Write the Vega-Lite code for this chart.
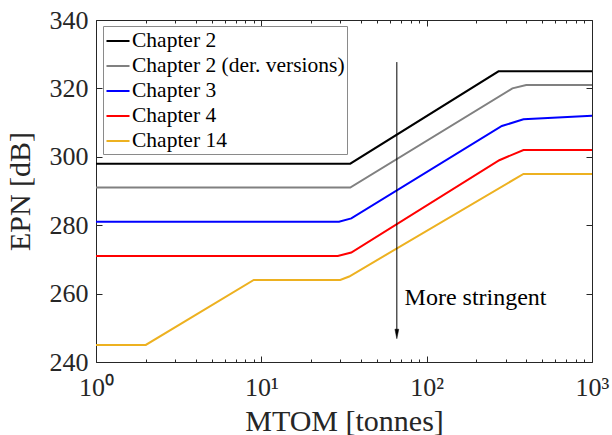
{
  "$schema": "https://vega.github.io/schema/vega-lite/v6.json",
  "width": 496,
  "height": 342,
  "autosize": "none",
  "padding": {"left": 96, "top": 20, "right": 20, "bottom": 73},
  "background": "white",
  "config": {
    "view": {"stroke": "#262626", "strokeWidth": 1},
    "font": "Liberation Serif",
    "axis": {
      "grid": false,
      "domain": false,
      "tickColor": "#262626",
      "labelColor": "#262626",
      "titleColor": "#262626",
      "labelFont": "Liberation Serif",
      "titleFont": "Liberation Serif",
      "titleFontWeight": "normal"
    }
  },
  "datasets": {
    "lines": [
      {"series": "Chapter 2", "mtom": 1, "epn": 298},
      {"series": "Chapter 2", "mtom": 34.5, "epn": 298},
      {"series": "Chapter 2", "mtom": 272, "epn": 325},
      {"series": "Chapter 2", "mtom": 1000, "epn": 325},
      {"series": "Chapter 2 (der. versions)", "mtom": 1, "epn": 291},
      {"series": "Chapter 2 (der. versions)", "mtom": 34.5, "epn": 291},
      {"series": "Chapter 2 (der. versions)", "mtom": 330, "epn": 320},
      {"series": "Chapter 2 (der. versions)", "mtom": 400, "epn": 321},
      {"series": "Chapter 2 (der. versions)", "mtom": 1000, "epn": 321},
      {"series": "Chapter 3", "mtom": 1, "epn": 281},
      {"series": "Chapter 3", "mtom": 29.5, "epn": 281},
      {"series": "Chapter 3", "mtom": 35, "epn": 282},
      {"series": "Chapter 3", "mtom": 285, "epn": 309},
      {"series": "Chapter 3", "mtom": 385, "epn": 311},
      {"series": "Chapter 3", "mtom": 1000, "epn": 312},
      {"series": "Chapter 4", "mtom": 1, "epn": 271},
      {"series": "Chapter 4", "mtom": 29, "epn": 271},
      {"series": "Chapter 4", "mtom": 35, "epn": 272},
      {"series": "Chapter 4", "mtom": 275, "epn": 299},
      {"series": "Chapter 4", "mtom": 385, "epn": 302},
      {"series": "Chapter 4", "mtom": 1000, "epn": 302},
      {"series": "Chapter 14", "mtom": 1, "epn": 245},
      {"series": "Chapter 14", "mtom": 2, "epn": 245},
      {"series": "Chapter 14", "mtom": 9, "epn": 264},
      {"series": "Chapter 14", "mtom": 30, "epn": 264},
      {"series": "Chapter 14", "mtom": 34, "epn": 265},
      {"series": "Chapter 14", "mtom": 385, "epn": 295},
      {"series": "Chapter 14", "mtom": 1000, "epn": 295}
    ],
    "arrow": [
      {"x": 66, "ytop": 327.7, "ybot": 249, "tx": 73.5, "ty": 258.6, "label": "More stringent", "yhead": 248.2}
    ]
  },
  "resolve": {"axis": {"x": "independent", "y": "independent"}},
  "layer": [
    {
      "data": {"name": "lines"},
      "mark": {"type": "line", "strokeWidth": 2, "clip": true},
      "encoding": {
        "x": {
          "field": "mtom", "type": "quantitative",
          "scale": {"type": "log", "domain": [1, 1000]},
          "axis": {
            "orient": "bottom",
            "values": [1, 10, 100, 1000],
            "labelExpr": "datum.value == 1 ? '10⁰' : datum.value == 10 ? '10¹' : datum.value == 100 ? '10²' : '10³'",
            "labelFlush": false,
            "tickSize": -6,
            "labelPadding": 18,
            "labelFontSize": 26,
            "title": "MTOM [tonnes]",
            "titleFontSize": 30,
            "titlePadding": 6
          }
        },
        "y": {
          "field": "epn", "type": "quantitative",
          "scale": {"domain": [240, 340]},
          "axis": {
            "orient": "left",
            "values": [240, 260, 280, 300, 320, 340],
            "tickSize": -6,
            "labelPadding": 14,
            "labelFontSize": 26,
            "title": "EPN [dB]",
            "titleFontSize": 30,
            "titlePadding": 14
          }
        },
        "color": {
          "field": "series", "type": "nominal",
          "scale": {
            "domain": ["Chapter 2", "Chapter 2 (der. versions)", "Chapter 3", "Chapter 4", "Chapter 14"],
            "range": ["#000000", "#808080", "#0000FF", "#FF0000", "#EDB120"]
          },
          "legend": {
            "orient": "none",
            "legendX": 7,
            "legendY": 6,
            "title": null,
            "fillColor": "white",
            "strokeColor": "#8a8a8a",
            "padding": 2,
            "symbolType": "stroke",
            "symbolSize": 530,
            "symbolStrokeWidth": 2,
            "labelFontSize": 21.5,
            "labelFont": "Liberation Serif",
            "labelColor": "#000000",
            "rowPadding": 1,
            "labelOffset": 1,
            "labelLimit": 400
          }
        }
      }
    },
    {
      "data": {"name": "arrow"},
      "mark": {"type": "rule", "color": "#000000", "strokeWidth": 1},
      "encoding": {
        "x": {
          "field": "x", "type": "quantitative",
          "scale": {"type": "log", "domain": [1, 1000]},
          "axis": {
            "orient": "bottom",
            "values": [2, 3, 4, 5, 6, 7, 8, 9, 20, 30, 40, 50, 60, 70, 80, 90, 200, 300, 400, 500, 600, 700, 800, 900],
            "labels": false,
            "tickSize": -3,
            "title": null
          }
        },
        "y": {
          "field": "ytop", "type": "quantitative",
          "scale": {"domain": [240, 340]},
          "axis": {
            "orient": "right",
            "values": [240, 260, 280, 300, 320, 340],
            "labels": false,
            "tickSize": -6,
            "title": null
          }
        },
        "y2": {"field": "ybot"}
      }
    },
    {
      "data": {"name": "arrow"},
      "mark": {"type": "text", "align": "left", "baseline": "middle", "fontSize": 24, "font": "Liberation Serif", "color": "#000000"},
      "encoding": {
        "x": {
          "field": "tx", "type": "quantitative",
          "scale": {"type": "log", "domain": [1, 1000]},
          "axis": {
            "orient": "top",
            "values": [1, 10, 100, 1000],
            "labels": false,
            "tickSize": -6,
            "title": null
          }
        },
        "y": {
          "field": "ty", "type": "quantitative",
          "scale": {"domain": [240, 340]},
          "axis": null
        },
        "text": {"field": "label"}
      }
    },
    {
      "data": {"name": "arrow"},
      "mark": {"type": "point", "shape": "M-0.4,-1L0,1L0.4,-1Z", "filled": true, "size": 90, "fill": "#000000", "stroke": "#000000", "strokeWidth": 0.5, "opacity": 1},
      "encoding": {
        "x": {
          "field": "x", "type": "quantitative",
          "scale": {"type": "log", "domain": [1, 1000]},
          "axis": {
            "orient": "top",
            "values": [2, 3, 4, 5, 6, 7, 8, 9, 20, 30, 40, 50, 60, 70, 80, 90, 200, 300, 400, 500, 600, 700, 800, 900],
            "labels": false,
            "tickSize": -3,
            "title": null
          }
        },
        "y": {
          "field": "yhead", "type": "quantitative",
          "scale": {"domain": [240, 340]},
          "axis": null
        }
      }
    }
  ]
}
